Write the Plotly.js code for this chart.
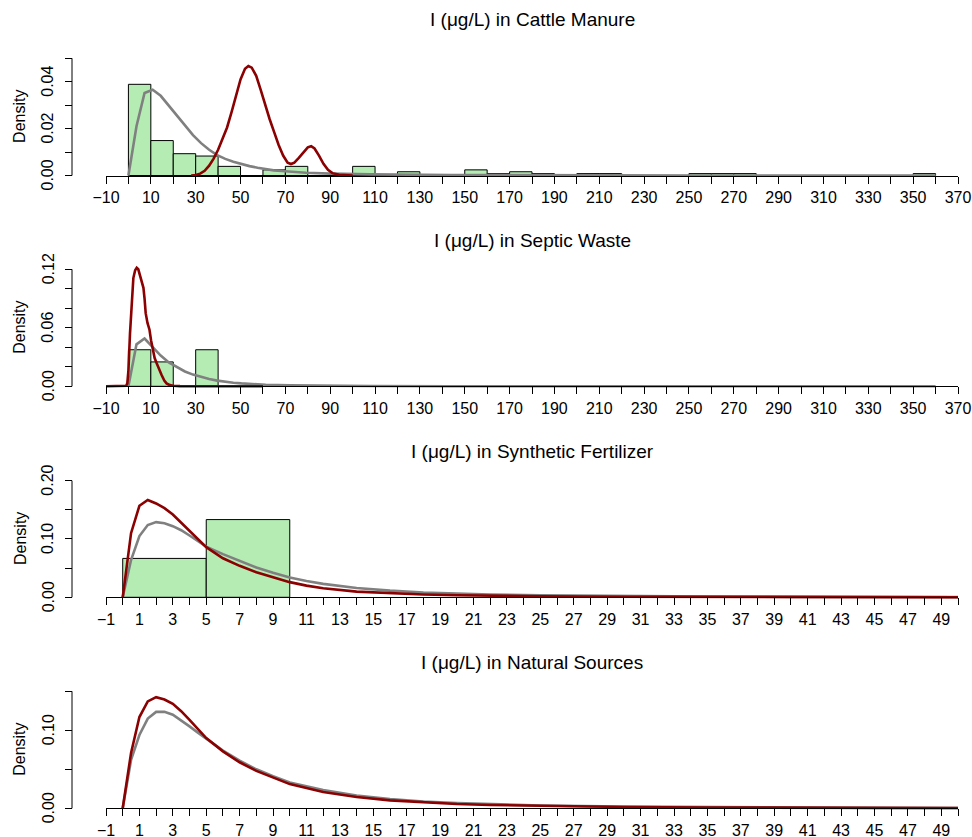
<!DOCTYPE html>
<html>
<head>
<meta charset="utf-8">
<script src="https://cdn.plot.ly/plotly-3.0.1.min.js"></script>
<style>html,body{margin:0;padding:0;background:#fff;}#chart{width:972px;height:837px;}</style>
</head>
<body>
<div id="chart"></div>
<script>
// ---------------- DATA ----------------
const panelTitles = [
  'I (μg/L) in Cattle Manure',
  'I (μg/L) in Septic Waste',
  'I (μg/L) in Synthetic Fertilizer',
  'I (μg/L) in Natural Sources'
];
const yLabel = 'Density';

// Histograms (break points and densities)
const cattleBreaks = [0,10,20,30,40,50,60,70,80,90,100,110,120,130,140,150,160,170,180,190,200,210,220,230,240,250,260,270,280,290,300,310,320,330,340,350,360];
const cattleDensity = [0.0389,0.0149,0.0093,0.0083,0.0039,0,0.0024,0.0039,0,0,0.0039,0,0.0016,0,0,0.0024,0.0008,0.0016,0.0008,0,0.0008,0.0008,0,0,0,0.0008,0.0008,0.0008,0,0,0,0,0,0,0,0.0008];
const septicBreaks = [0,10,20,30,40];
const septicDensity = [0.0375,0.025,0,0.0375];
const fertBreaks = [0,5,10];
const fertDensity = [0.0667,0.1333];

// Cattle manure curves
const cattleGrayX = [0,3.6,7.2,10.8,14.4,18,21.6,25.2,28.8,32.4,36,39.6,43.2,46.8,50.4,54,57.6,61.2,64.8,68.4,72,79.2,90,108,144,180,252,360];
const cattleGrayY = [0,0.021,0.0352,0.0366,0.034,0.0298,0.0252,0.021,0.0172,0.0138,0.011,0.0087,0.0071,0.0059,0.0049,0.004,0.0033,0.0027,0.0022,0.0019,0.0016,0.0012,0.0008,0.0005,0.00022,0.0001,0.00003,0];
const cattleRedX = [28,30,32,34,36,38,40,42,44,46,48,50,52,53.5,55,57,59,61,63,65,67,69,71,72.5,74,76,78,80,81.5,83,85,87,89,91,94,100];
const cattleRedY = [0,0.0002,0.0008,0.002,0.0042,0.0072,0.011,0.0155,0.0205,0.027,0.0345,0.041,0.0455,0.0467,0.046,0.0425,0.0365,0.03,0.024,0.0185,0.013,0.0085,0.0055,0.0049,0.0055,0.0075,0.01,0.012,0.0125,0.0115,0.0085,0.005,0.0024,0.001,0.0003,0];

// Septic waste curves
const septicGrayX = [0,3.6,7.2,10.8,14.4,18,21.6,25.2,28.8,32.4,36,39.6,43.2,46.8,50.4,54,57.6,61.2,72,90,108,144,180,252,360];
const septicGrayY = [0,0.043,0.049,0.04,0.0315,0.0245,0.0195,0.0152,0.012,0.0094,0.0074,0.0058,0.0046,0.0037,0.003,0.0024,0.0019,0.0016,0.0009,0.0005,0.0003,0.00012,0.00005,0.00002,0];
const septicRedX = [-10,-2,-1,-0.5,0,0.7,1.4,2.2,3,3.7,4.4,5.2,6,6.7,7.2,7.7,8.5,9.4,10.1,10.8,11.7,12.6,13.7,14.8,16,17,18.5,20,23,30,60];
const septicRedY = [0,0,0.0005,0.003,0.016,0.054,0.088,0.111,0.119,0.1215,0.12,0.114,0.108,0.101,0.09,0.075,0.065,0.058,0.047,0.037,0.029,0.0236,0.017,0.0116,0.006,0.003,0.0012,0.0006,0.0002,0,0];

// Synthetic fertilizer curves
const fertGrayX = [0,0.5,1,1.5,2,2.5,3,3.5,4,4.5,5,6,7,8,9,10,11,12,14,16,18,20,22,25,30,35,40,45,50];
const fertGrayY = [0,0.064,0.105,0.124,0.129,0.127,0.122,0.115,0.106,0.096,0.087,0.074,0.062,0.051,0.042,0.034,0.028,0.023,0.016,0.0114,0.0082,0.0062,0.0048,0.0034,0.0019,0.0011,0.0007,0.0005,0.0003];
const fertRedX = [0,0.5,1,1.5,2,2.5,3,3.5,4,4.5,5,6,7,8,9,10,11,12,14,16,18,20,22,25,30,35,40,45,50];
const fertRedY = [0,0.11,0.157,0.167,0.161,0.153,0.142,0.128,0.114,0.1,0.086,0.067,0.054,0.043,0.034,0.026,0.02,0.0155,0.0097,0.0068,0.0047,0.0034,0.0026,0.0018,0.001,0.0006,0.0004,0.0003,0.0002];

// Natural sources curves
const natGrayX = [0,0.5,1,1.5,2,2.5,3,3.5,4,4.5,5,6,7,8,9,10,12,14,16,18,20,22,25,30,35,40,45,50];
const natGrayY = [0,0.062,0.094,0.115,0.1236,0.1236,0.12,0.113,0.105,0.097,0.089,0.074,0.061,0.05,0.041,0.033,0.0235,0.0165,0.0118,0.0087,0.0066,0.0051,0.0036,0.0021,0.0013,0.0008,0.0006,0.0004];
const natRedX = [0,0.5,1,1.5,2,2.5,3,3.5,4,4.5,5,6,7,8,9,10,12,14,16,18,20,22,25,30,35,40,45,50];
const natRedY = [0,0.071,0.117,0.137,0.1425,0.1395,0.134,0.1245,0.1135,0.102,0.09,0.073,0.059,0.048,0.039,0.031,0.021,0.0145,0.0102,0.0074,0.0055,0.0042,0.0029,0.0016,0.001,0.0006,0.0004,0.0003];

// Tick labels
const wideTickLabels = [-10,10,30,50,70,90,110,130,150,170,190,210,230,250,270,290,310,330,350,370];
const narrowTickLabels = [-1,1,3,5,7,9,11,13,15,17,19,21,23,25,27,29,31,33,35,37,39,41,43,45,47,49];
const yTickLabels = [
  ['0.00','0.02','0.04'],
  ['0.00','0.06','0.12'],
  ['0.00','0.10','0.20'],
  ['0.00','0.10']
];

// ---------------- STYLE / LAYOUT ----------------
const W = 972, H = 837;
const FONT = 'Liberation Sans, Arial, Helvetica, sans-serif';
const TICKSIZE = 16, TITLESIZE = 19;
const GREEN = 'rgb(180,236,180)';
const RED = '#8B0000';
const GRAY = '#808080';
const plotLeft = 106, plotRight = 958, yAxisX = 72, yLabelX = 48;
const EXT = 0.04;   // extra room above top tick and below zero (fraction of axis span)
const panels = [
  {bottom: 175.5, top: 58.3, xr: [-10,370], ytop: 0.05, ydt: 0.01, xdt: 10, titleY: 20},
  {bottom: 386.3, top: 269.3, xr: [-10,370], ytop: 0.12, ydt: 0.02, xdt: 10, titleY: 240},
  {bottom: 597.3, top: 480.7, xr: [-1,50], ytop: 0.20, ydt: 0.05, xdt: 1, titleY: 451},
  {bottom: 808.3, top: 691.3, xr: [-1,50], ytop: 0.15, ydt: 0.05, xdt: 1, titleY: 662}
];

function fmtTick(v){ return (v < 0 ? '\u2212' + Math.abs(v) : String(v)); }
function histTrace(breaks, dens, idx){
  const centers = [], widths = [];
  for (let i = 0; i < dens.length; i++){
    centers.push((breaks[i] + breaks[i+1]) / 2);
    widths.push(breaks[i+1] - breaks[i]);
  }
  return {type:'bar', x: centers, y: dens, width: widths,
    xaxis: 'x' + (idx===0?'':idx+1), yaxis: 'y' + (idx===0?'':idx+1),
    marker: {color: GREEN, line: {color: '#000', width: 1}}, hoverinfo:'skip'};
}
function lineTrace(x, y, color, idx){
  return {type:'scatter', mode:'lines', x: x, y: y,
    xaxis: 'x' + (idx===0?'':idx+1), yaxis: 'y' + (idx===0?'':idx+1),
    line: {color: color, width: 2.6}, hoverinfo:'skip'};
}

const traces = [
  histTrace(cattleBreaks, cattleDensity, 0),
  lineTrace(cattleGrayX, cattleGrayY, GRAY, 0),
  lineTrace(cattleRedX, cattleRedY, RED, 0),
  histTrace(septicBreaks, septicDensity, 1),
  lineTrace(septicGrayX, septicGrayY, GRAY, 1),
  lineTrace(septicRedX, septicRedY, RED, 1),
  histTrace(fertBreaks, fertDensity, 2),
  lineTrace(fertGrayX, fertGrayY, GRAY, 2),
  lineTrace(fertRedX, fertRedY, RED, 2),
  lineTrace(natGrayX, natGrayY, GRAY, 3),
  lineTrace(natRedX, natRedY, RED, 3)
];

const layout = {
  width: W, height: H,
  margin: {l:0, r:0, t:0, b:0},
  paper_bgcolor: '#fff', plot_bgcolor: '#fff',
  showlegend: false,
  bargap: 0,
  font: {family: FONT, size: TICKSIZE, color: '#000'},
  annotations: [],
  shapes: []
};

panels.forEach((p, i) => {
  const sfx = i === 0 ? '' : String(i+1);
  const xLabels = p.xdt === 10 ? wideTickLabels : narrowTickLabels;
  const yl = yTickLabels[i];
  const pxPerUnit = (p.bottom - p.top) / p.ytop;
  const ext = EXT * p.ytop;
  const domBottomPx = p.bottom + ext * pxPerUnit;
  const domTopPx = p.top - ext * pxPerUnit;
  layout['xaxis' + sfx] = {
    domain: [plotLeft / W, plotRight / W],
    range: p.xr, anchor: 'free', position: 1 - p.bottom / H,
    showgrid: false, zeroline: false, showline: true, linecolor: '#000', linewidth: 1,
    ticks: 'outside', ticklen: 7, tickwidth: 1, tickcolor: '#000',
    tickmode: 'array', tickvals: xLabels, ticktext: xLabels.map(fmtTick),
    tickfont: {family: FONT, size: TICKSIZE, color: '#000'},
    minor: {dtick: p.xdt, tick0: p.xr[0], ticks: 'outside', ticklen: 7, tickwidth: 1, tickcolor: '#000', showgrid: false},
    fixedrange: true
  };
  layout['yaxis' + sfx] = {
    domain: [1 - domBottomPx / H, 1 - domTopPx / H],
    range: [-ext, p.ytop + ext], anchor: 'free', position: yAxisX / W,
    showgrid: false, zeroline: false, showline: false,
    ticks: 'outside', ticklen: 7, tickwidth: 1, tickcolor: '#000',
    tickmode: 'array', tickvals: Array.from({length: Math.round(p.ytop / p.ydt) + 1}, (_, k) => k * p.ydt),
    showticklabels: false,
    fixedrange: true
  };
  // y tick labels, rotated (R style)
  yl.forEach(s => {
    layout.annotations.push({
      text: s, xref: 'paper', yref: 'y' + sfx,
      x: yLabelX / W, y: parseFloat(s),
      xanchor: 'center', yanchor: 'middle', showarrow: false, textangle: -90,
      font: {family: FONT, size: TICKSIZE, color: '#000'}
    });
  });
  // y axis line from 0 to the top tick (R style)
  layout.shapes.push({type: 'line', xref: 'paper', yref: 'y' + sfx,
    x0: yAxisX / W, x1: yAxisX / W, y0: 0, y1: p.ytop,
    line: {color: '#000', width: 1}, layer: 'above'});
  layout.annotations.push({
    text: panelTitles[i], xref: 'paper', yref: 'paper',
    x: (plotLeft + plotRight) / 2 / W, y: 1 - p.titleY / H,
    xanchor: 'center', yanchor: 'middle', showarrow: false,
    font: {family: FONT, size: TITLESIZE, color: '#000'}
  });
  layout.annotations.push({
    text: yLabel, xref: 'paper', yref: 'paper',
    x: 20 / W, y: 1 - ((p.top + p.bottom) / 2) / H,
    xanchor: 'center', yanchor: 'middle', showarrow: false, textangle: -90,
    font: {family: FONT, size: TICKSIZE, color: '#000'}
  });
});

Plotly.newPlot('chart', traces, layout, {displayModeBar: false, staticPlot: true});
</script>
</body>
</html>
